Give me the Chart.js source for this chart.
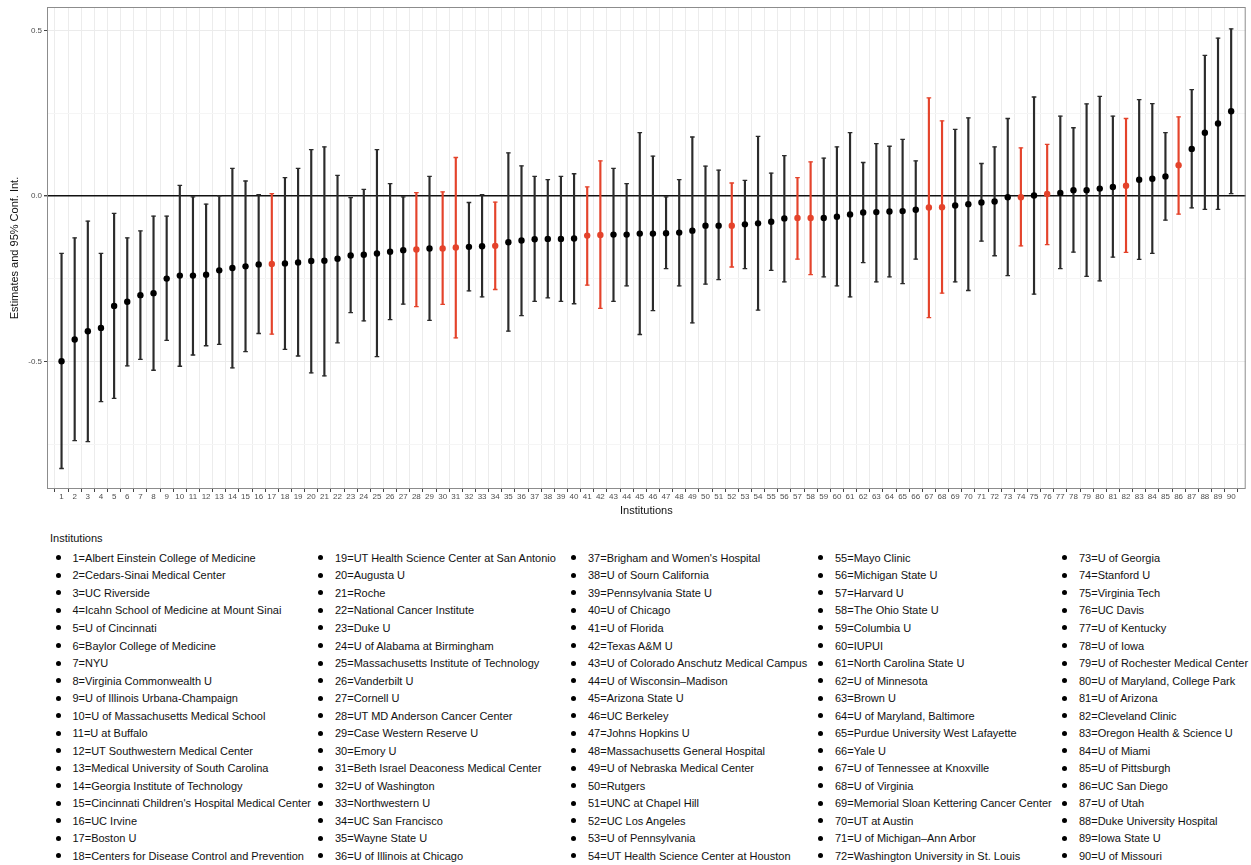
<!DOCTYPE html>
<html>
<head>
<meta charset="utf-8">
<script src="https://cdn.jsdelivr.net/npm/chart.js@4.4.0/dist/chart.umd.min.js"></script>
<style>
  html, body { margin: 0; padding: 0; background: #fff; }
  body { width: 1251px; height: 865px; position: relative; overflow: hidden; font-family: "Liberation Sans", Arial, sans-serif; }
  #plot { position: absolute; left: 0; top: 0; width: 1251px; height: 522px; }
  #legend-title { position: absolute; left: 50px; top: 532px; font-size: 11px; color: #111; }
  .item { position: absolute; font-size: 11px; color: #111; white-space: nowrap; line-height: 14px; }
  .item::before { content: ""; position: absolute; left: -17px; top: 4.5px; width: 5px; height: 5px; border-radius: 50%; background: #000; }
</style>
</head>
<body>
<div id="plot"><canvas id="ciChart" width="1251" height="522"></canvas></div>
<div id="legend-title">Institutions</div>
<div id="legend"></div>
<script>
/* DATA */
const institutions = [
  "Albert Einstein College of Medicine", "Cedars-Sinai Medical Center", "UC Riverside",
  "Icahn School of Medicine at Mount Sinai", "U of Cincinnati", "Baylor College of Medicine",
  "NYU", "Virginia Commonwealth U", "U of Illinois Urbana-Champaign",
  "U of Massachusetts Medical School", "U at Buffalo", "UT Southwestern Medical Center",
  "Medical University of South Carolina", "Georgia Institute of Technology",
  "Cincinnati Children's Hospital Medical Center", "UC Irvine", "Boston U",
  "Centers for Disease Control and Prevention",
  "UT Health Science Center at San Antonio", "Augusta U", "Roche", "National Cancer Institute",
  "Duke U", "U of Alabama at Birmingham", "Massachusetts Institute of Technology",
  "Vanderbilt U", "Cornell U", "UT MD Anderson Cancer Center", "Case Western Reserve U",
  "Emory U", "Beth Israel Deaconess Medical Center", "U of Washington", "Northwestern U",
  "UC San Francisco", "Wayne State U", "U of Illinois at Chicago",
  "Brigham and Women's Hospital", "U of Sourn California", "Pennsylvania State U",
  "U of Chicago", "U of Florida", "Texas A&M U", "U of Colorado Anschutz Medical Campus",
  "U of Wisconsin–Madison", "Arizona State U", "UC Berkeley", "Johns Hopkins U",
  "Massachusetts General Hospital", "U of Nebraska Medical Center", "Rutgers",
  "UNC at Chapel Hill", "UC Los Angeles", "U of Pennsylvania",
  "UT Health Science Center at Houston",
  "Mayo Clinic", "Michigan State U", "Harvard U", "The Ohio State U", "Columbia U", "IUPUI",
  "North Carolina State U", "U of Minnesota", "Brown U", "U of Maryland, Baltimore",
  "Purdue University West Lafayette", "Yale U", "U of Tennessee at Knoxville",
  "U of Virginia", "Memorial Sloan Kettering Cancer Center", "UT at Austin",
  "U of Michigan–Ann Arbor", "Washington University in St. Louis",
  "U of Georgia", "Stanford U", "Virginia Tech", "UC Davis", "U of Kentucky", "U of Iowa",
  "U of Rochester Medical Center", "U of Maryland, College Park", "U of Arizona",
  "Cleveland Clinic", "Oregon Health & Science U", "U of Miami", "U of Pittsburgh",
  "UC San Diego", "U of Utah", "Duke University Hospital", "Iowa State U", "U of Missouri"
];

const estimates = [
  -0.500, -0.434, -0.409, -0.399, -0.333, -0.320, -0.300, -0.294, -0.250, -0.241,
  -0.241, -0.238, -0.225, -0.218, -0.213, -0.207, -0.206, -0.204, -0.201, -0.197,
  -0.196, -0.190, -0.180, -0.178, -0.174, -0.169, -0.164, -0.162, -0.159, -0.159,
  -0.156, -0.154, -0.152, -0.151, -0.140, -0.135, -0.131, -0.130, -0.130, -0.129,
  -0.120, -0.118, -0.117, -0.117, -0.114, -0.114, -0.113, -0.111, -0.105, -0.090,
  -0.090, -0.090, -0.086, -0.083, -0.078, -0.068, -0.067, -0.067, -0.067, -0.063,
  -0.056, -0.050, -0.049, -0.047, -0.046, -0.042, -0.035, -0.034, -0.029, -0.025,
  -0.020, -0.017, -0.004, -0.004, 0.001, 0.006, 0.009, 0.017, 0.017, 0.022,
  0.027, 0.031, 0.049, 0.052, 0.059, 0.093, 0.142, 0.191, 0.219, 0.256
];

const upper = [
  -0.174, -0.127, -0.076, -0.174, -0.053, -0.127, -0.106, -0.061, -0.061, 0.032,
  -0.003, -0.025, 0.000, 0.083, 0.045, 0.004, 0.007, 0.055, 0.083, 0.140,
  0.148, 0.062, -0.005, 0.020, 0.140, 0.037, -0.003, 0.010, 0.059, 0.012,
  0.116, -0.020, 0.004, -0.019, 0.130, 0.091, 0.059, 0.049, 0.059, 0.067,
  0.027, 0.106, 0.083, 0.037, 0.191, 0.120, -0.003, 0.049, 0.178, 0.090,
  0.078, 0.039, 0.047, 0.180, 0.069, 0.122, 0.055, 0.103, 0.114, 0.148,
  0.191, 0.101, 0.158, 0.150, 0.171, 0.106, 0.296, 0.227, 0.201, 0.236,
  0.098, 0.148, 0.234, 0.145, 0.299, 0.156, 0.241, 0.206, 0.278, 0.301,
  0.241, 0.234, 0.291, 0.279, 0.191, 0.239, 0.321, 0.425, 0.477, 0.505
];

const lower = [
  -0.824, -0.740, -0.743, -0.622, -0.612, -0.514, -0.494, -0.527, -0.437, -0.515,
  -0.481, -0.453, -0.449, -0.520, -0.471, -0.416, -0.418, -0.464, -0.484, -0.535,
  -0.544, -0.444, -0.353, -0.378, -0.486, -0.374, -0.327, -0.335, -0.376, -0.328,
  -0.429, -0.287, -0.305, -0.283, -0.409, -0.362, -0.319, -0.308, -0.319, -0.326,
  -0.270, -0.340, -0.319, -0.272, -0.419, -0.347, -0.220, -0.272, -0.384, -0.267,
  -0.253, -0.215, -0.220, -0.345, -0.225, -0.260, -0.191, -0.238, -0.245, -0.272,
  -0.305, -0.202, -0.260, -0.245, -0.265, -0.191, -0.368, -0.294, -0.260, -0.286,
  -0.137, -0.181, -0.241, -0.151, -0.297, -0.147, -0.220, -0.170, -0.243, -0.257,
  -0.185, -0.171, -0.192, -0.174, -0.073, -0.055, -0.036, -0.041, -0.041, 0.007
];

// institutions drawn in red
const highlighted = [17, 28, 30, 31, 34, 41, 42, 52, 57, 58, 67, 68, 74, 76, 82, 86];

const yTickLabels = ["-0.5", "0.0", "0.5"];

/* COLOURS */
const RED = "#e4432b";
const ids = institutions.map((_, i) => i + 1);
const isRed = (id) => highlighted.includes(id);
const pointColors = ids.map((id) => (isRed(id) ? RED : "#000000"));
const barColors = ids.map((id) => (isRed(id) ? RED : "#2b2b2b"));

/* PANEL BORDER */
const panelBorder = {
  id: "panelBorder",
  afterDatasetsDraw(chart) {
    const { ctx, chartArea: a } = chart;
    ctx.save();
    ctx.strokeStyle = "#8c8c8c";
    ctx.lineWidth = 1;
    ctx.strokeRect(a.left + 0.5, a.top + 0.5, a.right - a.left - 1, a.bottom - a.top - 1);
    ctx.restore();
  },
};

const isMajor = (v) => Math.abs(v * 2 - Math.round(v * 2)) < 1e-9;

new Chart(document.getElementById("ciChart"), {
  type: "scatter",
  data: {
    datasets: [
      {
        order: 0,
        data: ids.map((id, i) => ({ x: id, y: estimates[i] })),
        pointBackgroundColor: pointColors,
        pointBorderColor: pointColors,
        pointRadius: 3.2,
        pointBorderWidth: 0,
      },
      {
        order: 1,
        data: ids.map((id, i) => ({ x: id, y: upper[i] }))
          .concat(ids.map((id, i) => ({ x: id, y: lower[i] }))),
        pointStyle: "line",
        pointRadius: 2.3,
        pointBorderWidth: 1.3,
        pointBorderColor: barColors.concat(barColors),
      },
      {
        order: 2,
        type: "bar",
        data: ids.map((id, i) => ({ x: id, y: [lower[i], upper[i]] })),
        backgroundColor: barColors,
        barThickness: 1.5,
      },
    ],
  },
  options: {
    responsive: false,
    animation: false,
    events: [],
    layout: { padding: { top: 7, right: 2, left: 0, bottom: 0 } },
    plugins: { legend: { display: false }, tooltip: { enabled: false } },
    scales: {
      x: {
        type: "linear",
        min: 0.4,
        max: 90.6,
        afterFit: (s) => { s.height = 33; },
        ticks: {
          stepSize: 1,
          autoSkip: false,
          maxRotation: 0,
          includeBounds: false,
          padding: 0,
          color: "#4d4d4d",
          font: { family: "Liberation Sans", size: 8 },
          callback: (v) => String(v),
        },
        grid: { color: "#ececec", lineWidth: 1, tickLength: 3, tickColor: "#444" },
        border: { display: false },
        title: {
          display: true,
          text: "Institutions",
          color: "#111",
          font: { family: "Liberation Sans", size: 11 },
          padding: { top: 0, bottom: 4.4 },
        },
      },
      y: {
        min: -0.886,
        max: 0.571,
        afterFit: (s) => { s.width = 47; },
        ticks: {
          stepSize: 0.25,
          includeBounds: false,
          padding: 2,
          color: "#4d4d4d",
          font: { family: "Liberation Sans", size: 8 },
          callback: (v) => (isMajor(v) ? yTickLabels[Math.round(v * 2) + 1] : ""),
        },
        grid: {
          color: (c) => (Math.abs(c.tick.value) < 1e-9 ? "#111" : isMajor(c.tick.value) ? "#ebebeb" : "#f5f5f5"),
          lineWidth: (c) => (Math.abs(c.tick.value) < 1e-9 ? 1.4 : 1),
          tickLength: 3,
          tickColor: (c) => (isMajor(c.tick.value) ? "#444" : "rgba(0,0,0,0)"),
        },
        border: { display: false },
        title: {
          display: true,
          text: "Estimates and 95% Conf. Int.",
          color: "#111",
          font: { family: "Liberation Sans", size: 11 },
          padding: { top: 8, bottom: 0 },
        },
      },
    },
  },
  plugins: [panelBorder],
});

/* LEGEND */
const legend = document.getElementById("legend");
const colLeft = [72.5, 335, 588, 835, 1079];
const rowsPerCol = 18;
institutions.forEach((name, i) => {
  const el = document.createElement("div");
  el.className = "item";
  el.textContent = (i + 1) + "=" + name;
  el.style.left = colLeft[Math.floor(i / rowsPerCol)] + "px";
  el.style.top = (557.8 - 7 + (i % rowsPerCol) * 17.54) + "px";
  legend.appendChild(el);
});
</script>
</body>
</html>
